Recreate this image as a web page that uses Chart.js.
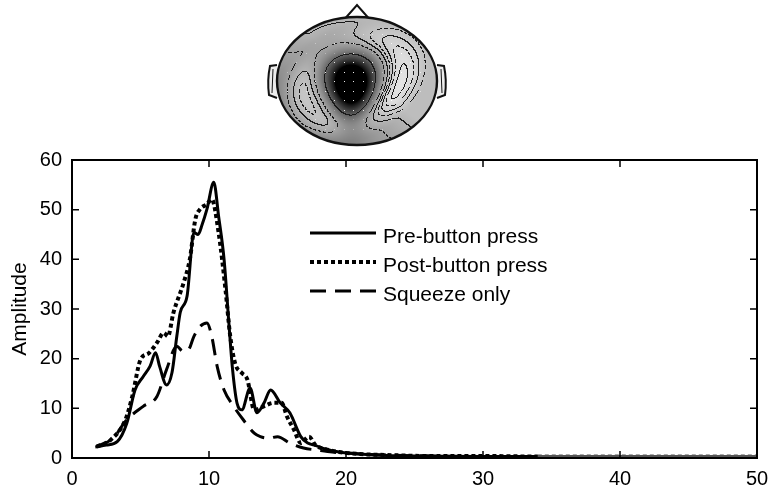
<!DOCTYPE html>
<html>
<head>
<meta charset="utf-8">
<script src="https://cdn.jsdelivr.net/npm/chart.js@4/dist/chart.umd.min.js"></script>
<style>
  html, body { margin: 0; padding: 0; background: #fff; }
  #wrap { width: 769px; height: 489px; position: relative; }
</style>
</head>
<body>
<div id="wrap"><canvas id="spectrum"></canvas></div>
<script>
/* spectra (Hz vs amplitude) for the three conditions */
var preHz  = [1.7, 2.5, 3.3, 4.0, 4.6, 5.2, 5.7, 6.1, 6.4, 6.9, 7.3, 7.65, 7.9, 8.4, 8.9, 9.2, 9.5, 9.85,
              10.35, 10.7, 11.1, 11.45, 11.7, 12.05, 12.4, 13.0, 13.5, 14.0, 14.5, 15.2, 15.9, 16.7, 17.2,
              17.8, 18.5, 19.5, 21, 23, 26, 30, 34, 40, 50];
var preAmp = [2.2, 2.6, 3.3, 7, 13.7, 16.4, 18.5, 21.2, 18.4, 14.7, 17.2, 24.5, 29.3, 32.6, 45.4, 45, 47, 50.1,
              55.5, 48.7, 40, 27.2, 18.4, 11, 9.7, 14.1, 9.1, 11, 13.7, 11.1, 9.1, 4.3, 3.0,
              2.5, 1.8, 1.2, 0.8, 0.5, 0.4, 0.3, 0.3, 0.3, 0.3];

var postHz  = [1.8, 2.8, 3.9, 4.4, 5.0, 5.6, 6.2, 6.7, 7.0, 7.4, 8.15, 8.6, 9.0, 9.35, 9.85, 10.2, 10.7,
               11.2, 11.55, 11.9, 12.4, 12.8, 13.3, 14.0, 14.7, 15.3, 15.7, 16.2, 16.7, 17.3, 17.8, 18.5,
               19.5, 21, 23, 26, 30, 34, 40, 50];
var postAmp = [2.3, 3.6, 7.7, 12.4, 19.8, 21.1, 23.2, 25.2, 24.5, 29.2, 35.3, 40, 48, 50.1, 51.1, 52.1, 45.4,
               34, 24.5, 19.1, 17.1, 15.8, 9.7, 10.4, 11.1, 11.1, 8.3, 5.7, 3, 4.3, 2.5, 1.8,
               1.2, 0.8, 0.6, 0.4, 0.4, 0.3, 0.3, 0.3];

var squeezeHz  = [1.8, 3.0, 4.0, 5.2, 6.2, 6.9, 7.65, 8.1, 8.5, 8.9, 9.35, 9.85, 10.2, 10.6, 11.1, 11.8, 12.5,
                  13.3, 13.75, 14.4, 15.0, 15.9, 16.9, 17.9, 19, 20.5, 23, 26, 30, 34, 40, 50];
var squeezeAmp = [2.3, 4, 7.7, 10.4, 12.4, 17.8, 22.5, 21.5, 21.8, 24.5, 26.5, 27.2, 24.5, 18.4, 13.7, 10.4, 7.7,
                  5, 4.3, 4.0, 4.3, 3, 2, 1.6, 1.2, 0.9, 0.6, 0.4, 0.3, 0.3, 0.3, 0.3];

var seriesNames = ['Pre-button press', 'Post-button press', 'Squeeze only'];
var xTicks = [0, 10, 20, 30, 40, 50];
var yTicks = [0, 10, 20, 30, 40, 50, 60];

var FONT = "'Liberation Sans', Arial, Helvetica, sans-serif";

function pts(xs, ys) {
    return xs.map(function (x, i) { return { x: x, y: ys[i] }; });
}

// the flat tail past ~34 Hz prints grey
function tailColor(ctx) {
    return ctx.p0.parsed.x >= 34 ? '#555555' : '#000000';
}

function clamp01(v) { return v < 0 ? 0 : (v > 1 ? 1 : v); }

/* ---- scalp map above the plot ---- */

// contour levels of the map (darkness units)
var MAP_LEVELS = [0.05, 0.1, 0.15, 0.2, 0.25, 0.3, 0.36, 0.45, 0.72];

// darkness of the map at normalised head coords (u, w), 0 = white, 1 = black
function field(u, w) {
    var du = u + 0.08, dw = w - 0.04;
    // shield-shaped dark patch, wider towards the front
    var wu = 0.38 - 0.2 * dw;
    var r = Math.sqrt((du * du) / (wu * wu) + (dw * dw) / (0.58 * 0.58));
    var blob = Math.min(1, 1.2 * Math.exp(-Math.pow(r / 1.05, 2.4)));
    // tilted rings around it, light crescent on the right
    var p = (du - dw) * 0.7071, q = (du + dw) * 0.7071;
    var dd = Math.sqrt((p * p) / 1.0 + (q * q) / 0.5);
    var s = clamp01((dd - 0.62) / 0.55);
    var outer = 0.02 + 0.3 * s * s * (3 - 2 * s);
    var left = 0.3 * clamp01(-u * 0.7 + w * 0.7 + 0.1);
    return clamp01(blob + (1 - blob) * (outer + left));
}

function levelOf(v) {
    var k = 0;
    while (k < MAP_LEVELS.length && v >= MAP_LEVELS[k]) k++;
    return k;
}

function renderHeadImage(rx, ry) {
    var W = Math.ceil(rx * 2) + 2, H = Math.ceil(ry * 2) + 2;
    var cv = document.createElement('canvas');
    cv.width = W; cv.height = H;
    var c = cv.getContext('2d');
    var img = c.createImageData(W, H);
    var F = [], L = [], i, x, y;
    for (y = 0; y < H; y++) {
        for (x = 0; x < W; x++) {
            var f = field((x - W / 2) / rx, (y - H / 2) / ry);
            F.push(f);
            L.push(levelOf(f));
        }
    }
    for (y = 0; y < H; y++) {
        for (x = 0; x < W; x++) {
            i = y * W + x;
            var u = (x - W / 2) / rx, w = (y - H / 2) / ry;
            if (u * u + w * w > 1) continue;
            var g = 252 * Math.pow(1 - F[i], 0.75);
            var k = L[i];
            var kr = x + 1 < W ? L[i + 1] : k;
            var kd = y + 1 < H ? L[i + W] : k;
            if (k !== kr || k !== kd) {
                var lvl = Math.max(k, kr, kd);
                var dashed = lvl % 2 === 0;
                if (!dashed || ((x + y) % 6) < 4) g = 25;
            }
            img.data[i * 4] = img.data[i * 4 + 1] = img.data[i * 4 + 2] = g;
            img.data[i * 4 + 3] = 255;
        }
    }
    // electrode sites
    for (var a = -7; a <= 7; a++) {
        for (var b = -6; b <= 6; b++) {
            var ex = Math.round(W / 2 + a * 9.5 - 4), ey = Math.round(H / 2 + b * 9.5);
            var eu = (ex - W / 2) / (rx - 8), ew = (ey - H / 2) / (ry - 8);
            if (eu * eu + ew * ew > 1) continue;
            if ((a + b) % 2 !== 0 && Math.abs(a) > 2) continue;
            i = (ey * W + ex) * 4;
            var cur = img.data[i];
            var val = cur < 120 ? 235 : Math.min(255, cur + 35);
            img.data[i] = img.data[i + 1] = img.data[i + 2] = val;
        }
    }
    c.putImageData(img, 0, 0);
    return cv;
}

function drawHead(ctx, cx, cy, rx, ry) {
    ctx.save();
    ctx.strokeStyle = '#111';
    ctx.lineWidth = 2;

    // nose
    ctx.beginPath();
    ctx.moveTo(cx - 15, cy - ry + 5);
    ctx.lineTo(cx, cy - ry - 12);
    ctx.lineTo(cx + 15, cy - ry + 5);
    ctx.stroke();

    // ears
    [-1, 1].forEach(function (s) {
        var ex = cx + s * rx;
        ctx.beginPath();
        ctx.moveTo(ex, cy - 16);
        ctx.lineTo(ex + s * 7, cy - 15);
        ctx.quadraticCurveTo(ex + s * 10, cy - 1, ex + s * 8, cy + 14);
        ctx.lineTo(ex, cy + 17);
        ctx.fillStyle = '#ececec';
        ctx.fill();
        ctx.stroke();
        ctx.lineWidth = 1;
        ctx.beginPath();
        ctx.moveTo(ex + s * 4, cy - 12);
        ctx.lineTo(ex + s * 5, cy + 12);
        ctx.stroke();
        ctx.lineWidth = 2;
    });

    var map = renderHeadImage(rx, ry);
    ctx.save();
    ctx.filter = 'blur(0.6px)';
    ctx.drawImage(map, cx - map.width / 2, cy - map.height / 2);
    ctx.restore();

    // outline
    ctx.beginPath();
    ctx.ellipse(cx, cy, rx, ry, 0, 0, Math.PI * 2);
    ctx.lineWidth = 2.4;
    ctx.stroke();
    ctx.restore();
}

var headPlugin = {
    id: 'head',
    afterDraw: function (chart) {
        drawHead(chart.ctx, 357, 81, 80, 64);
    }
};

/* ---- box frame with inward ticks on all sides ---- */
var framePlugin = {
    id: 'frame',
    afterDatasetsDraw: function (chart) {
        var ctx = chart.ctx, a = chart.chartArea;
        var xs = chart.scales.x, ys = chart.scales.y, len = 7;
        ctx.save();
        ctx.strokeStyle = '#000';
        ctx.lineWidth = 2;
        ctx.strokeRect(a.left, a.top, a.right - a.left, a.bottom - a.top);
        ctx.lineWidth = 1.5;
        ctx.beginPath();
        xTicks.forEach(function (v) {
            var p = xs.getPixelForValue(v);
            ctx.moveTo(p, a.bottom); ctx.lineTo(p, a.bottom - len);
            ctx.moveTo(p, a.top);    ctx.lineTo(p, a.top + len);
        });
        yTicks.forEach(function (v) {
            var p = ys.getPixelForValue(v);
            ctx.moveTo(a.left, p);  ctx.lineTo(a.left + len, p);
            ctx.moveTo(a.right, p); ctx.lineTo(a.right - len, p);
        });
        ctx.stroke();
        ctx.restore();
    }
};

/* ---- legend inside the axes ---- */
var legendPlugin = {
    id: 'boxLegend',
    afterDraw: function (chart) {
        var ctx = chart.ctx;
        var x0 = 310, x1 = 376, tx = 383;
        var rows = [237, 266, 295];
        ctx.save();
        ctx.font = '21px ' + FONT;
        ctx.fillStyle = '#000';
        ctx.textBaseline = 'middle';
        chart.data.datasets.forEach(function (ds, i) {
            ctx.strokeStyle = '#000';
            ctx.lineWidth = ds.borderWidth;
            ctx.setLineDash(ds.borderDash || []);
            ctx.beginPath();
            ctx.moveTo(x0, rows[i] - 4);
            ctx.lineTo(x1, rows[i] - 4);
            ctx.stroke();
            ctx.setLineDash([]);
            ctx.fillText(ds.label, tx, rows[i]);
        });
        ctx.restore();
    }
};

new Chart(document.getElementById('spectrum').getContext('2d'), {
    type: 'line',
    data: {
        datasets: [{
            label: seriesNames[0],
            data: pts(preHz, preAmp),
            borderColor: '#000',
            borderWidth: 3,
            segment: { borderColor: tailColor }
        }, {
            label: seriesNames[1],
            data: pts(postHz, postAmp),
            borderColor: '#000',
            borderWidth: 4,
            borderDash: [4, 3],
            segment: { borderColor: tailColor }
        }, {
            label: seriesNames[2],
            data: pts(squeezeHz, squeezeAmp),
            borderColor: '#000',
            borderWidth: 3,
            borderDash: [16, 9],
            segment: { borderColor: tailColor }
        }]
    },
    options: {
        responsive: true,
        maintainAspectRatio: false,
        animation: false,
        layout: { padding: { top: 160, right: 12, left: 0, bottom: 0 } },
        elements: {
            point: { radius: 0 },
            line: { cubicInterpolationMode: 'monotone', borderCapStyle: 'butt' }
        },
        plugins: {
            legend: { display: false },
            tooltip: { enabled: false }
        },
        scales: {
            x: {
                type: 'linear',
                min: 0,
                max: 50,
                afterFit: function (s) { s.height = 31; s.paddingLeft = 0; s.paddingRight = 0; },
                afterBuildTicks: function (s) { s.ticks = xTicks.map(function (v) { return { value: v }; }); },
                grid: { display: false, drawTicks: false },
                border: { display: false },
                ticks: { color: '#000', font: { family: FONT, size: 20 }, padding: 9, maxRotation: 0 }
            },
            y: {
                min: 0,
                max: 60,
                afterFit: function (s) { s.width = 72; s.paddingTop = 0; s.paddingBottom = 0; },
                afterBuildTicks: function (s) { s.ticks = yTicks.map(function (v) { return { value: v }; }); },
                grid: { display: false, drawTicks: false },
                border: { display: false },
                ticks: { color: '#000', font: { family: FONT, size: 20 }, padding: 10 },
                title: {
                    display: true,
                    text: 'Amplitude',
                    color: '#000',
                    font: { family: FONT, size: 21 },
                    padding: { top: 8, bottom: 0 }
                }
            }
        }
    },
    plugins: [headPlugin, framePlugin, legendPlugin]
});
</script>
</body>
</html>
